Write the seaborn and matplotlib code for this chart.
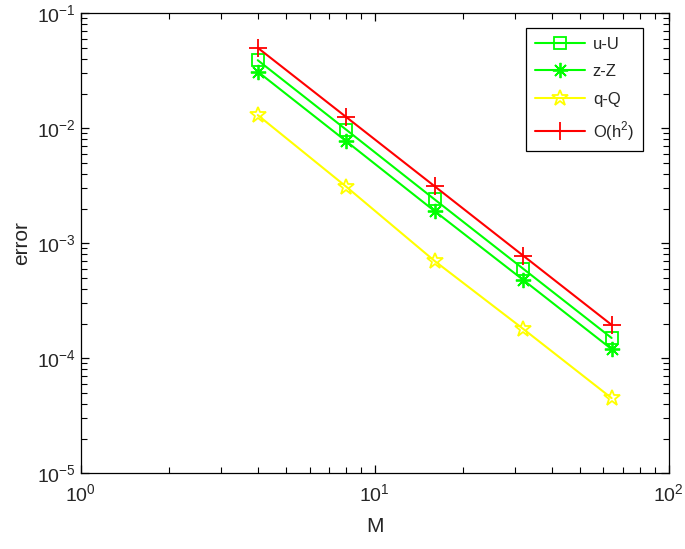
import matplotlib
matplotlib.use("Agg")
import matplotlib.pyplot as plt
import matplotlib.ticker as mticker
import seaborn as sns
import pandas as pd

M = [4, 8, 16, 32, 64]
err_u = [0.039, 0.0097, 0.0024, 0.0006, 0.00015]
err_z = [0.031, 0.0077, 0.0019, 0.00048, 0.00012]
err_q = [0.013, 0.0031, 0.0007, 0.00018, 0.000045]
err_h2 = [0.05, 0.0125, 0.003125, 0.00078, 0.000195]

labels = ["u-U", "z-Z", "q-Q", "O(h$^2$)"]
colors = ["#00ff00", "#00ff00", "#ffff00", "#ff0000"]
markers = ["s", (8, 2, 0), "*", "+"]
msizes = [8, 11, 12, 13]

sns.set_style("ticks")
plt.rcParams["font.family"] = ["Liberation Sans", "DejaVu Sans"]
plt.rcParams["mathtext.fontset"] = "custom"
plt.rcParams["mathtext.rm"] = "Liberation Sans"

fig = plt.figure(figsize=(6.85, 5.49), dpi=100)
ax = fig.add_axes([0.118, 0.138, 0.858, 0.838])

for vals, lab, c, mk, ms in zip([err_u, err_z, err_q, err_h2], labels,
                                colors, markers, msizes):
    df = pd.DataFrame({"M": M, "error": vals})
    sns.lineplot(data=df, x="M", y="error", color=c, marker=mk,
                 markersize=ms, markerfacecolor="none", markeredgecolor=c,
                 markeredgewidth=1.3, linewidth=1.5, label=lab, ax=ax)

ax.set_xscale("log")
ax.set_yscale("log")
ax.set_xlim(1, 100)
ax.set_ylim(1e-5, 1e-1)

# log minor ticks at 2..9 of each decade, like MATLAB
xminor = [k * 10.0 ** e for e in range(0, 2) for k in range(2, 10)]
yminor = [k * 10.0 ** e for e in range(-5, -1) for k in range(2, 10)]
ax.xaxis.set_minor_locator(mticker.FixedLocator(xminor))
ax.yaxis.set_minor_locator(mticker.FixedLocator(yminor))
ax.xaxis.set_minor_formatter(mticker.NullFormatter())
ax.yaxis.set_minor_formatter(mticker.NullFormatter())

ax.set_xlabel("M", fontsize=15, labelpad=9)
ax.set_ylabel("error", fontsize=15, labelpad=4)
ax.tick_params(which="both", direction="in", top=True, right=True,
               labelsize=14, color="black")
ax.tick_params(which="major", length=6, width=0.9)
ax.tick_params(which="minor", length=4, width=0.8)
ax.tick_params(axis="x", pad=7)
for s in ax.spines.values():
    s.set_linewidth(0.9)
    s.set_color("black")

leg = ax.legend(loc="upper right", fontsize=12, fancybox=False,
                edgecolor="black", framealpha=1, handlelength=3.0,
                handletextpad=0.5, labelspacing=0.75, borderpad=0.5,
                bbox_to_anchor=(0.970, 0.985))
leg.get_frame().set_linewidth(0.9)

fig.savefig("out.png", dpi=100)
